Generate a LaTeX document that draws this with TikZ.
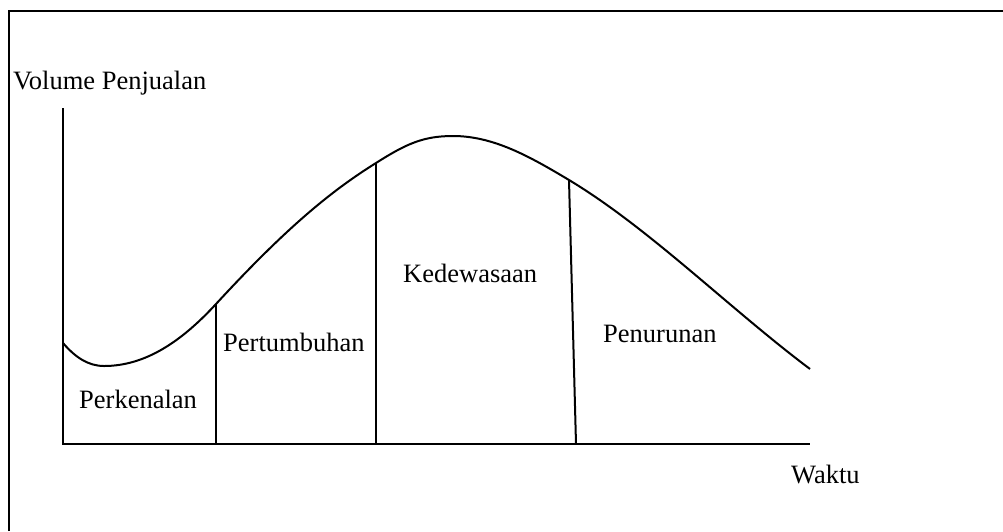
\documentclass[tikz,border=0pt]{standalone}
\usepackage{fontspec}
\setmainfont{Liberation Serif}
\begin{document}
\begin{tikzpicture}[x=1pt,y=-1pt,
  lbl/.style={anchor=base west,inner sep=0pt,font=\fontsize{26.5}{30}\selectfont},
  axisline/.style={line width=2pt},
  stageline/.style={line width=2pt},
  curveline/.style={line width=2pt,line join=round}]
\useasboundingbox (0,0) rectangle (1003,531);
% outer frame
\draw[line width=2.5pt] (9,531) -- (9,11) -- (1003,11);
% axes
\coordinate (ytop) at (63,108);
\coordinate (origin) at (63,444);
\coordinate (xend) at (810,444);
\draw[axisline] (ytop) -- (origin) -- (xend);
% stage boundary points on the curve and on the time axis
\coordinate (c0) at (63,343);
\coordinate (c1) at (216,304);  \coordinate (b1) at (216,444);
\coordinate (c2) at (376,163);  \coordinate (b2) at (376,444);
\coordinate (c3) at (569,180);  \coordinate (b3) at (576,444);
\coordinate (cend) at (810,369);
% product life cycle curve
\draw[curveline] (c0)
  .. controls (75,357) and (88,366) .. (104,366)
  .. controls (145,366) and (181,342) .. (c1)
  .. controls (286,228) and (331,191) .. (c2)
  .. controls (406,144) and (423,136) .. (453,136)
  .. controls (493,136) and (529,156) .. (c3)
  .. controls (649,228) and (730,309) .. (cend);
% stage boundaries
\draw[stageline] (c1) -- (b1);
\draw[stageline] (c2) -- (b2);
\draw[stageline] (c3) -- (b3);
% labels
\node[lbl] (ylabel) at (13,89) {Volume Penjualan};
\node[lbl] (xlabel) at (791,483) {Waktu};
\node[lbl] (s1) at (79,408) {Perkenalan};
\node[lbl] (s2) at (223,351) {Pertumbuhan};
\node[lbl] (s3) at (403,282) {Kedewasaan};
\node[lbl] (s4) at (603,342) {Penurunan};
\end{tikzpicture}
\end{document}
